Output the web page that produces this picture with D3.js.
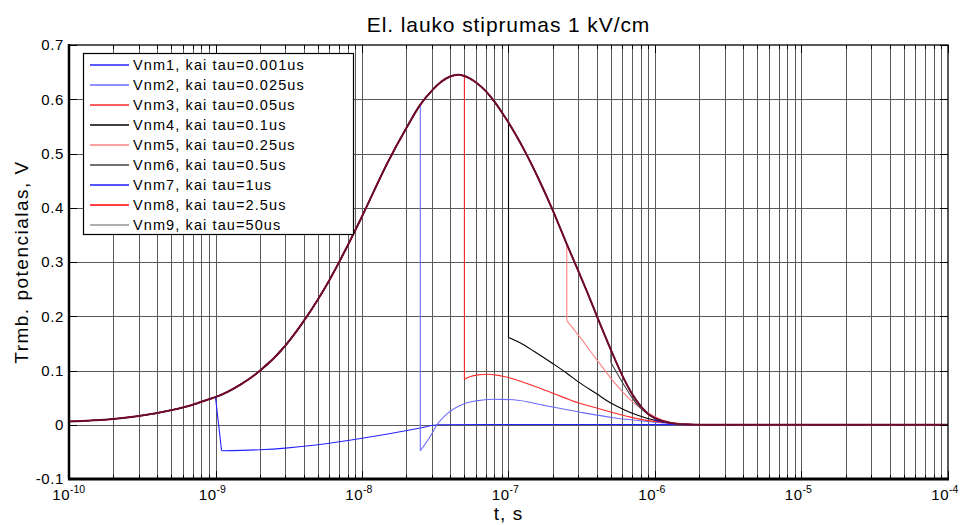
<!DOCTYPE html>
<html><head><meta charset="utf-8">
<script src="https://cdn.jsdelivr.net/npm/d3@7/dist/d3.min.js"></script>
<style>
html,body{margin:0;padding:0;background:#fff;}
svg{display:block;font-family:"Liberation Sans",Arial,sans-serif;}
</style></head>
<body>
<svg id="chart" width="963" height="525"></svg>
<script>
// ---------- data ----------
const titleText = "El. lauko stiprumas 1 kV/cm";
const xLabelText = "t, s";
const yLabelText = "Trmb. potencialas, V";
const xTickExps = [-10, -9, -8, -7, -6, -5, -4];
const yTicks = [-0.1, 0, 0.1, 0.2, 0.3, 0.4, 0.5, 0.6, 0.7];
const yTickLabels = ["-0.1", "0", "0.1", "0.2", "0.3", "0.4", "0.5", "0.6", "0.7"];
const seriesNames = ["Vnm1, kai tau=0.001us", "Vnm2, kai tau=0.025us", "Vnm3, kai tau=0.05us",
  "Vnm4, kai tau=0.1us", "Vnm5, kai tau=0.25us", "Vnm6, kai tau=0.5us",
  "Vnm7, kai tau=1us", "Vnm8, kai tau=2.5us", "Vnm9, kai tau=50us"];
const seriesTau = [1e-9, 2.5e-8, 5e-8, 1e-7, 2.5e-7, 5e-7, 1e-6, 2.5e-6, 5e-5];
const seriesColors = ["#2424ff", "#6a6aff", "#ff2a2a", "#000000", "#ff8080", "#404040", "#1a1aff", "#ff0000", "#959595"];

// common pulse (all series coincide until their tau)
const mainT = [1e-10, 2e-10, 3e-10, 5e-10, 7e-10, 9e-10, 1e-9, 1.5e-9, 2e-9, 3e-9, 4e-9, 5e-9, 6e-9, 7.5e-9,
  1e-8, 1.5e-8, 2e-8, 2.5e-8, 3e-8, 3.5e-8, 4e-8, 4.5e-8, 5e-8, 6e-8, 7e-8, 8e-8, 9e-8,
  1e-7, 1.3e-7, 1.6e-7, 2e-7, 2.5e-7, 3e-7, 3.5e-7, 4e-7, 5e-7, 6e-7, 7e-7, 8e-7, 9e-7,
  1e-6, 1.3e-6, 1.6e-6, 2e-6, 3e-6, 1e-5, 1e-4];
const mainV = [0.006, 0.0105, 0.016, 0.027, 0.037, 0.047, 0.051, 0.075, 0.099, 0.146, 0.191, 0.231, 0.267, 0.316,
  0.384, 0.484, 0.546, 0.590, 0.616, 0.633, 0.642, 0.645, 0.643, 0.631, 0.615, 0.596, 0.576,
  0.557, 0.503, 0.454, 0.396, 0.333, 0.283, 0.240, 0.201, 0.138, 0.090, 0.056, 0.034, 0.020,
  0.012, 0.003, 0.0007, 0, 0, 0, 0];

// each series after its cut time tau: [t, value]
const vnm1After = [[1.1e-9, -0.048], [2e-9, -0.046], [3e-9, -0.043], [5e-9, -0.037], [1e-8, -0.025],
  [1.5e-8, -0.017], [2.5e-8, -0.006], [3.3e-8, 0], [1e-7, 0.0005], [1e-6, 0.0003], [1e-4, 0]];
const vnm2After = [[2.5e-8, -0.048], [2.9e-8, -0.023], [3.25e-8, 0], [3.8e-8, 0.020], [4.9e-8, 0.038],
  [6e-8, 0.044], [7.9e-8, 0.047], [1.08e-7, 0.046], [1.8e-7, 0.035], [3.1e-7, 0.023], [5.2e-7, 0.013],
  [8.8e-7, 0.006], [1.5e-6, 0.001], [2e-6, 0], [1e-4, 0]];
const vnm3After = [[5e-8, 0.084], [5.5e-8, 0.089], [6.2e-8, 0.092], [7.1e-8, 0.093], [8.5e-8, 0.091],
  [1e-7, 0.087], [1.4e-7, 0.074], [1.8e-7, 0.063], [2.4e-7, 0.050], [3.1e-7, 0.039], [4e-7, 0.031],
  [5.2e-7, 0.022], [6.8e-7, 0.014], [8.8e-7, 0.008], [1.2e-6, 0.004], [1.5e-6, 0.002], [2e-6, 0], [1e-4, 0]];
const vnm4After = [[1e-7, 0.161], [1.2e-7, 0.151], [1.5e-7, 0.135], [2e-7, 0.113], [2.5e-7, 0.095],
  [3e-7, 0.079], [4e-7, 0.057], [5e-7, 0.040], [6e-7, 0.029], [7e-7, 0.021], [8.8e-7, 0.012],
  [1.14e-6, 0.005], [1.5e-6, 0.001], [2e-6, 0], [1e-4, 0]];
const vnm5After = [[2.5e-7, 0.192], [3.1e-7, 0.160], [4e-7, 0.120], [5.2e-7, 0.080], [6.8e-7, 0.046],
  [8.8e-7, 0.023], [1.14e-6, 0.008], [1.5e-6, 0.002], [2e-6, 0], [1e-4, 0]];
const vnm6After = [[5e-7, 0.115], [6e-7, 0.078], [7e-7, 0.049], [8e-7, 0.030], [1e-6, 0.011],
  [1.3e-6, 0.003], [1.6e-6, 0.0006], [2e-6, 0], [1e-4, 0]];
const vnm7After = [[1e-6, 0.009], [1.2e-6, 0.004], [1.6e-6, 0.0005], [2e-6, 0], [1e-4, 0]];
const vnm8After = [[2.5e-6, 0], [1e-4, 0]];
const vnm9After = [[5e-5, 0], [1e-4, 0]];
const seriesAfter = [vnm1After, vnm2After, vnm3After, vnm4After, vnm5After, vnm6After, vnm7After, vnm8After, vnm9After];

// ---------- layout ----------
const svg = d3.select("#chart");
const L = 69, R = 948, T = 45, B = 479;
const x = d3.scaleLog().domain([1e-10, 1e-4]).range([L, R]);
const y = d3.scaleLinear().domain([-0.1, 0.7]).range([B, T]);

svg.append("rect").attr("width", 963).attr("height", 525).attr("fill", "#fff");
svg.append("defs").append("clipPath").attr("id", "clip")
  .append("rect").attr("x", L).attr("y", T).attr("width", R - L).attr("height", B - T);

// minor/major decade positions
const gridX = [];
for (let e = -10; e < -4; e++) for (let m = 1; m < 10; m++) gridX.push(m * Math.pow(10, e));
gridX.push(1e-4);

const grid = svg.append("g").attr("shape-rendering", "crispEdges");
grid.selectAll("line.gx").data(gridX.slice(1, -1)).join("line")
  .attr("x1", d => Math.round(x(d)) + 0.5).attr("x2", d => Math.round(x(d)) + 0.5)
  .attr("y1", T).attr("y2", B).attr("stroke", "#5a5a5a").attr("stroke-width", 1);
grid.selectAll("line.gy").data(yTicks.slice(1, -1)).join("line")
  .attr("y1", d => Math.round(y(d)) + 0.5).attr("y2", d => Math.round(y(d)) + 0.5)
  .attr("x1", L).attr("x2", R).attr("stroke", "#5a5a5a").attr("stroke-width", 1);

// ---------- series ----------
const smooth = d3.line().x(d => x(d[0])).y(d => y(d[1])).curve(d3.curveMonotoneX);
const straight = d3.line().x(d => x(d[0])).y(d => y(d[1]));
const mainPts = mainT.map((t, i) => [t, mainV[i]]);
const plot = svg.append("g").attr("clip-path", "url(#clip)");
function addPath(pts, gen, color, w) {
  plot.append("path").datum(pts).attr("d", gen).attr("fill", "none")
    .attr("stroke", color).attr("stroke-width", w).attr("stroke-linejoin", "round");
}
seriesAfter.forEach((after, i) => {
  const trunk = mainPts.filter(p => p[0] <= seriesTau[i] * 1.0001);
  addPath(trunk, smooth, seriesColors[i], 1.1);
  addPath([trunk[trunk.length - 1], after[0]], straight, seriesColors[i], 1.1);
  addPath(after, smooth, seriesColors[i], 1.1);
});
// overlapping common trunk (all series drawn on top of each other)
addPath(mainPts, smooth, "#6e0a2c", 2);

// ---------- axes ----------
const ax = svg.append("g").attr("shape-rendering", "crispEdges").attr("stroke", "#000");
gridX.forEach(d => {
  const major = Math.abs(Math.log10(d) - Math.round(Math.log10(d))) < 1e-9;
  const len = major ? 8 : 4;
  const xx = Math.round(x(d)) + 0.5;
  ax.append("line").attr("x1", xx).attr("x2", xx).attr("y1", B).attr("y2", B - len);
  ax.append("line").attr("x1", xx).attr("x2", xx).attr("y1", T).attr("y2", T + len);
});
yTicks.forEach(d => {
  const yy = Math.round(y(d)) + 0.5;
  ax.append("line").attr("x1", L).attr("x2", L + 8).attr("y1", yy).attr("y2", yy);
  ax.append("line").attr("x1", R).attr("x2", R - 8).attr("y1", yy).attr("y2", yy);
});
svg.append("rect").attr("x", L).attr("y", T).attr("width", R - L).attr("height", B - T)
  .attr("fill", "none").attr("stroke", "#000").attr("stroke-width", 1.3);
svg.append("line").attr("x1", L - 1).attr("x2", R + 1).attr("y1", B).attr("y2", B).attr("stroke", "#000").attr("stroke-width", 3);
svg.append("line").attr("x1", L).attr("x2", L).attr("y1", T - 1).attr("y2", B).attr("stroke", "#000").attr("stroke-width", 2.5);

// y tick labels
svg.selectAll("text.yt").data(yTicks).join("text")
  .attr("x", L - 5).attr("y", d => y(d)).attr("dy", "0.36em")
  .attr("text-anchor", "end").attr("font-size", 15).attr("letter-spacing", 0.6).attr("fill", "#000")
  .text((d, i) => yTickLabels[i]);

// x tick labels 10^e
xTickExps.forEach(e => {
  const xx = x(Math.pow(10, e));
  svg.append("text").attr("x", xx + 1).attr("y", 500).attr("text-anchor", "end")
    .attr("font-size", 15).attr("letter-spacing", 0.5).attr("fill", "#000").text("10");
  svg.append("text").attr("x", xx + 1).attr("y", 493).attr("text-anchor", "start")
    .attr("font-size", 10.5).attr("fill", "#000").text(String(e));
});

// title & labels
svg.append("text").attr("x", (L + R) / 2).attr("y", 32).attr("text-anchor", "middle")
  .attr("font-size", 21).attr("letter-spacing", 0.9).attr("fill", "#000").text(titleText);
svg.append("text").attr("x", (L + R) / 2).attr("y", 520).attr("text-anchor", "middle")
  .attr("font-size", 19).attr("letter-spacing", 1).attr("fill", "#000").text(xLabelText);
svg.append("text").attr("transform", "translate(28," + ((T + B) / 2) + ") rotate(-90)")
  .attr("text-anchor", "middle").attr("font-size", 19).attr("letter-spacing", 1.5).attr("fill", "#000").text(yLabelText);

// ---------- legend ----------
const lg = svg.append("g");
lg.append("rect").attr("x", 83.5).attr("y", 53.5).attr("width", 270).attr("height", 181)
  .attr("fill", "#fff").attr("stroke", "#000").attr("stroke-width", 1.2);
seriesNames.forEach((name, i) => {
  const yy = 65 + i * 20;
  lg.append("line").attr("x1", 90).attr("x2", 129).attr("y1", yy).attr("y2", yy)
    .attr("stroke", seriesColors[i]).attr("stroke-width", 1.3);
  lg.append("text").attr("x", 133).attr("y", yy).attr("dy", "0.36em")
    .attr("font-size", 14.5).attr("letter-spacing", 1.1).attr("fill", "#000").text(name);
});
</script>
</body></html>
